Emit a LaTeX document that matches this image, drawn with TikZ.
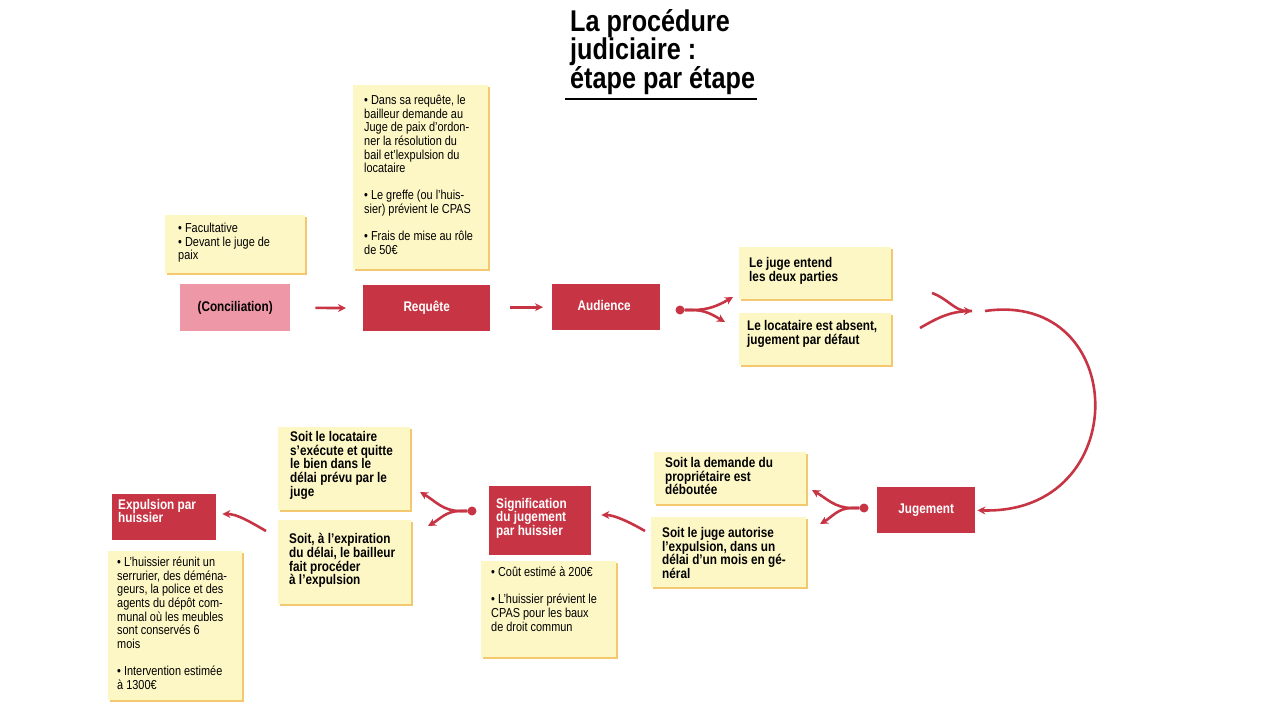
\documentclass[tikz,border=0pt]{standalone}
\usepackage{fontspec}
\setmainfont{Liberation Sans}[FakeStretch=0.84]
\usetikzlibrary{shadows,arrows.meta}
\definecolor{notefill}{HTML}{FDF7C6}
\definecolor{noteshadow}{HTML}{F3C86E}
\definecolor{redbox}{HTML}{C73545}
\definecolor{pinkbox}{HTML}{EE97A6}
\begin{document}
\begin{tikzpicture}[x=1pt,y=-1pt,
  note/.style={fill=notefill, anchor=north west, inner sep=0pt,
    drop shadow={shadow xshift=1.8pt, shadow yshift=-1.8pt, fill=noteshadow, opacity=1}},
  ntext/.style={anchor=north west, align=left, font=\fontsize{13}{13.6}\selectfont, inner sep=0pt},
  btext/.style={anchor=north west, align=left, font=\fontsize{14}{13.8}\selectfont\bfseries, inner sep=0pt},
  rbox/.style={fill=redbox, anchor=north west, inner sep=0pt},
  wtext/.style={text=white, font=\fontsize{14}{13.6}\selectfont\bfseries, inner sep=0pt, align=left},
  arr/.style={draw=redbox, line width=2.6pt, -{Stealth[length=8pt,width=8pt]}},
  ln/.style={draw=redbox, line width=2.6pt},
  dotc/.style={circle, fill=redbox, inner sep=0pt, minimum size=9pt}]
\useasboundingbox (0,0) rectangle (1280,714);
% title
\node[anchor=north west, align=left, inner sep=0pt, font=\fontsize{30}{28}\selectfont\bfseries] (title) at (570,9) {La procédure\\judiciaire :\\étape par étape};
\draw[line width=1.2pt] (565,99) -- (757,99);
% notes
\node[note, minimum width=140, minimum height=58] (facn) at (165,215) {};
\node[ntext] (fact) at (178,223) {• Facultative\\• Devant le juge de\\paix};
\node[note, minimum width=135, minimum height=184] (reqn) at (353,85) {};
\node[ntext] (reqt) at (364,95) {• Dans sa requête, le\\bailleur demande au\\Juge de paix d'ordon-\\ner la résolution du\\bail et'lexpulsion du\\locataire\\[13.6pt]• Le greffe (ou l'huis-\\sier) prévient le CPAS\\[13.6pt]• Frais de mise au rôle\\de 50€};
\node[note, minimum width=152, minimum height=52] (entn) at (739,247) {};
\node[btext] (entt) at (749,257) {Le juge entend\\les deux parties};
\node[note, minimum width=152, minimum height=52] (absn) at (739,313) {};
\node[btext] (abst) at (747,320) {Le locataire est absent,\\jugement par défaut};
\node[note, minimum width=152, minimum height=52] (debn) at (654,452) {};
\node[btext] (debt) at (665,457) {Soit la demande du\\propriétaire est\\déboutée};
\node[note, minimum width=155, minimum height=70] (autn) at (651,517) {};
\node[btext] (autt) at (662,527) {Soit le juge autorise\\l'expulsion, dans un\\délai d'un mois en gé-\\néral};
\node[note, minimum width=135, minimum height=96] (coun) at (481,561) {};
\node[ntext] (cout) at (491,567) {• Coût estimé à 200€\\[13.6pt]• L'huissier prévient le\\CPAS pour les baux\\de droit commun};
\node[note, minimum width=132, minimum height=83] (quin) at (278,427) {};
\node[btext] (quit) at (290,431) {Soit le locataire\\s'exécute et quitte\\le bien dans le\\délai prévu par le\\juge};
\node[note, minimum width=133, minimum height=84] (expn) at (278,520) {};
\node[btext] (expt) at (289,533) {Soit, à l'expiration\\du délai, le bailleur\\fait procéder\\à l'expulsion};
\node[note, minimum width=134, minimum height=149] (huin) at (108,551) {};
\node[ntext] (huit) at (117,557) {• L'huissier réunit un\\serrurier, des déména-\\geurs, la police et des\\agents du dépôt com-\\munal où les meubles\\sont conservés 6\\mois\\[13.6pt]• Intervention estimée\\à 1300€};
% boxes
\node[fill=pinkbox, anchor=north west, minimum width=110, minimum height=47, inner sep=0pt, font=\fontsize{14}{14}\selectfont\bfseries] (conc) at (180,284) {(Conciliation)};
\node[rbox, minimum width=127, minimum height=46] (req) at (363,285) {};
\node[wtext] at (req.center) {Requête};
\node[rbox, minimum width=108, minimum height=46] (aud) at (552,284) {};
\node[wtext] at ([xshift=-2pt,yshift=2pt]aud.center) {Audience};
\node[rbox, minimum width=98, minimum height=46] (jug) at (877,487) {};
\node[wtext] at (jug.center) {Jugement};
\node[rbox, minimum width=102, minimum height=69] (sig) at (489,486) {};
\node[wtext, anchor=north west] at (496,498) {Signification\\du jugement\\par huissier};
\node[rbox, minimum width=104, minimum height=46] (expu) at (112,494) {};
\node[wtext, anchor=north west] at (118,499) {Expulsion par\\huissier};
% connectors
\draw[arr, shorten <=25pt, shorten >=17pt] (conc.east) -- (req.west);
\draw[arr, shorten <=20pt, shorten >=9pt] (req.east |- aud.west) -- (aud.west);
\node[dotc] (d1) at (680,310) {};
\draw[arr] (d1) -- ++(12,0) to[out=0,in=210] (733,297);
\draw[arr] (d1) -- ++(12,0) to[out=0,in=150] (725,322);
\coordinate (m1) at (972,311);
\coordinate (s1) at (932,293);
\coordinate (s2) at (920,328);
\draw[arr] (s1) to[out=-20,in=180] (m1);
\draw[ln] (s2) to[out=30,in=180] (m1);
\coordinate (c1) at (985,311);
\draw[arr, shorten >=2pt] (c1) .. controls (1130,290) and (1135,515) .. (jug.east);
\node[dotc] (d2) at (864,508) {};
\draw[arr] (d2) -- ++(-12,0) to[out=180,in=-30] (812,490);
\draw[arr] (d2) -- ++(-12,0) to[out=180,in=30] (820,524);
\coordinate (a1) at (645,531);
\draw[arr, shorten >=10pt] (a1) to[out=150,in=0] (sig.east |- 0,515);
\node[dotc] (d3) at (472,511) {};
\draw[arr] (d3) -- ++(-12,0) to[out=180,in=-30] (420,492);
\draw[arr] (d3) -- ++(-12,0) to[out=180,in=30] (428,526);
\coordinate (a2) at (266,531);
\draw[arr, shorten >=6pt] (a2) to[out=150,in=0] (expu.east |- 0,514);
\end{tikzpicture}
\end{document}
